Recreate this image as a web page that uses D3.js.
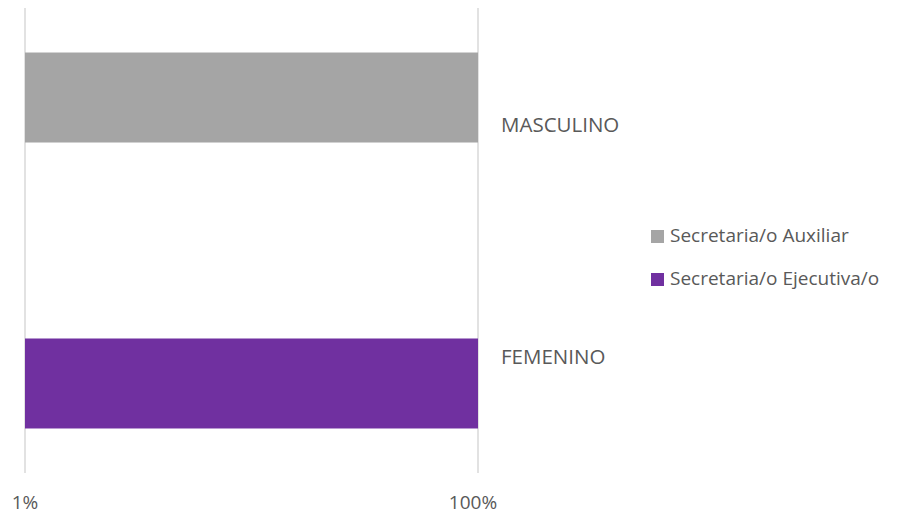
<!DOCTYPE html>
<html>
<head>
<meta charset="utf-8">
<script src="https://cdn.jsdelivr.net/npm/d3@7/dist/d3.min.js"></script>
<style>
  html, body { margin: 0; padding: 0; background: #fff; }
  svg text { font-family: "Open Sans", "Noto Sans", sans-serif; fill: #595959; }
</style>
</head>
<body>
<svg id="chart" width="909" height="516"></svg>
<script>
// Categories (top to bottom) and series
const categories = ["MASCULINO", "FEMENINO"];
const seriesNames = ["Secretaria/o Auxiliar", "Secretaria/o Ejecutiva/o"];
const seriesColors = ["#A5A5A5", "#7030A0"];
// Share per category and series (null = no bar)
const auxiliarValues = [1.0, null];
const ejecutivaValues = [null, 1.0];
const tickValues = [0.01, 1];
const tickLabels = ["1%", "100%"];

const svg = d3.select("#chart");
const plot = { left: 25, right: 478, top: 8, bottom: 473 };

const x = d3.scaleLog().domain([0.01, 1]).range([plot.left, plot.right]);

// Category band for labels
const yCat = d3.scaleBand().domain(categories).range([plot.top, plot.bottom]);

// Slot band: each category holds one slot per series
const slots = [];
categories.forEach(c => seriesNames.forEach(s => slots.push(c + "|" + s)));
const ySlot = d3.scaleBand().domain(slots).range([plot.top, plot.bottom])
  .paddingInner(0.056).paddingOuter(0.467);

// Gridlines
svg.append("g").selectAll("line").data(tickValues).join("line")
  .attr("x1", d => x(d)).attr("x2", d => x(d))
  .attr("y1", plot.top).attr("y2", plot.bottom)
  .attr("stroke", "#D9D9D9").attr("stroke-width", 1.5);

// Bars
const seriesValues = [auxiliarValues, ejecutivaValues];
const bars = [];
seriesValues.forEach((vals, si) => {
  vals.forEach((v, ci) => {
    if (v != null) bars.push({ cat: categories[ci], s: si, v });
  });
});
svg.append("g").selectAll("rect").data(bars).join("rect")
  .attr("x", x(0.01))
  .attr("width", d => x(d.v) - x(0.01))
  .attr("y", d => ySlot(d.cat + "|" + seriesNames[d.s]))
  .attr("height", ySlot.bandwidth())
  .attr("fill", d => seriesColors[d.s]);

// Category labels to the right of the bars
svg.append("g").selectAll("text").data(categories).join("text")
  .attr("x", plot.right + 23)
  .attr("y", d => yCat(d) + yCat.bandwidth() / 2 + 2)
  .attr("dominant-baseline", "middle")
  .attr("font-size", 20.5)
  .text(d => d);

// Value axis tick labels
svg.append("g").selectAll("text").data(tickValues).join("text")
  .attr("x", (d, i) => x(d) + (i === tickValues.length - 1 ? -5 : 0))
  .attr("y", 504)
  .attr("text-anchor", "middle")
  .attr("dominant-baseline", "middle")
  .attr("font-size", 19)
  .text((d, i) => tickLabels[i]);

// Legend
const legend = svg.append("g").attr("transform", "translate(651,236)");
const li = legend.selectAll("g").data(seriesNames).join("g")
  .attr("transform", (d, i) => `translate(0,${i * 43})`);
li.append("rect").attr("x", 0).attr("y", -6).attr("width", 13).attr("height", 13)
  .attr("fill", (d, i) => seriesColors[i]);
li.append("text").attr("x", 19).attr("y", 1)
  .attr("dominant-baseline", "middle")
  .attr("font-size", 19)
  .text(d => d);
</script>
</body>
</html>
